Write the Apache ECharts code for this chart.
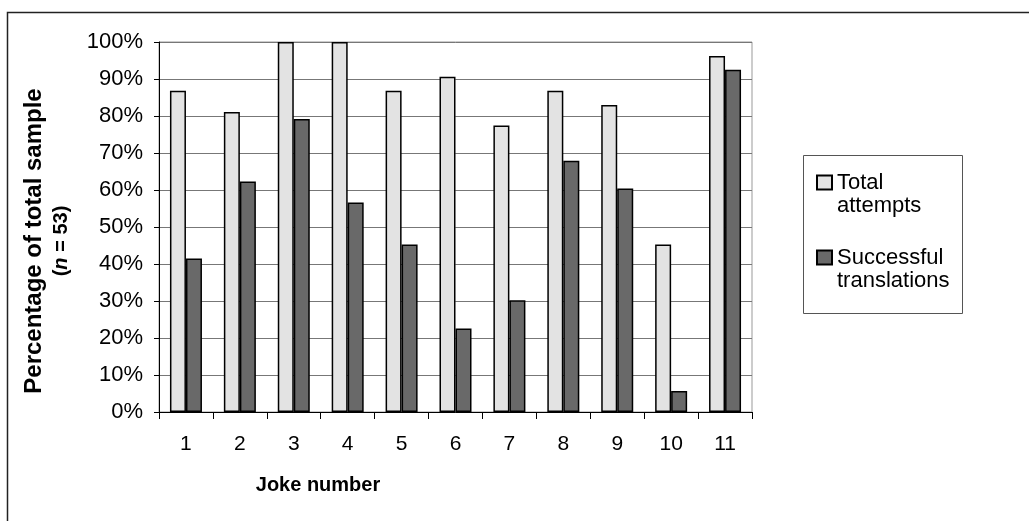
<!DOCTYPE html>
<html>
<head>
<meta charset="utf-8">
<script src="https://cdn.jsdelivr.net/npm/echarts@6/dist/echarts.min.js"></script>
<style>
  html, body { margin: 0; padding: 0; background: #fff; }
  #chart { width: 1029px; height: 521px; }
</style>
</head>
<body>
<div id="chart"></div>
<script>
  // joke numbers on the x axis
  var jokes = ['1', '2', '3', '4', '5', '6', '7', '8', '9', '10', '11'];
  // percent of the 53 participants
  var totalAttempts = [86.8, 81.1, 100, 100, 86.8, 90.6, 77.4, 86.8, 83.0, 45.3, 96.2];
  var successful = [41.5, 62.3, 79.2, 56.6, 45.3, 22.6, 30.2, 67.9, 60.4, 5.7, 92.5];
  var seriesNames = ['Total attempts', 'Successful translations'];

  var font = 'Liberation Sans, Arial, sans-serif';
  var chart = echarts.init(document.getElementById('chart'));

  chart.setOption({
    animation: false,
    backgroundColor: '#fff',
    grid: {
      left: 159,
      right: 277,
      top: 42,
      bottom: 109,
      show: true,
      borderColor: '#999',
      borderWidth: 1
    },
    legend: {
      orient: 'vertical',
      left: 816,
      top: 148,
      padding: 0,
      itemGap: 6,
      itemWidth: 15,
      itemHeight: 14,
      icon: 'rect',
      data: seriesNames,
      // empty first line so the icon sits next to the first word
      formatter: function (name) {
        return '\n' + name.replace(' ', '\n');
      },
      textStyle: {
        fontFamily: font,
        fontSize: 22,
        color: '#000',
        lineHeight: 23
      }
    },
    xAxis: {
      type: 'category',
      data: jokes,
      axisLine: { lineStyle: { color: '#000', width: 1 } },
      axisTick: { show: true, length: 7, lineStyle: { color: '#000' } },
      axisLabel: { color: '#000', fontFamily: font, fontSize: 21, margin: 22 }
    },
    yAxis: {
      type: 'value',
      min: 0,
      max: 100,
      interval: 10,
      axisLine: { show: true, lineStyle: { color: '#000', width: 1 } },
      axisTick: { show: true, length: 5, lineStyle: { color: '#000' } },
      axisLabel: {
        color: '#000', fontFamily: font, fontSize: 22, margin: 16,
        formatter: '{value}%'
      },
      splitLine: { lineStyle: { color: '#777', width: 1 } }
    },
    graphic: [
      {
        // outer chart frame (only top and left edges fall inside the picture)
        type: 'rect',
        shape: { x: 7.5, y: 12.5, width: 1100, height: 600 },
        style: { fill: 'none', stroke: '#222', lineWidth: 1.5 },
        silent: true
      },
      {
        type: 'rect',
        shape: { x: 803.5, y: 155.5, width: 159, height: 158 },
        style: { fill: 'none', stroke: '#555', lineWidth: 1 },
        silent: true
      },
      {
        type: 'text',
        x: 318,
        y: 485,
        style: {
          text: 'Joke number',
          font: 'bold 20px ' + font,
          fill: '#000',
          align: 'center',
          verticalAlign: 'middle'
        }
      },
      {
        type: 'text',
        x: 48,
        y: 241,
        rotation: Math.PI / 2,
        style: {
          text: '{b|Percentage of total sample}\n{s|(}{i|n}{s| = 53)}',
          align: 'center',
          verticalAlign: 'middle',
          fill: '#000',
          rich: {
            b: { fontFamily: font, fontWeight: 'bold', fontSize: 24, lineHeight: 27 },
            s: { fontFamily: font, fontWeight: 'bold', fontSize: 20, lineHeight: 27 },
            i: { fontFamily: font, fontWeight: 'bold', fontStyle: 'italic', fontSize: 20, lineHeight: 27 }
          }
        }
      }
    ],
    series: [
      {
        name: seriesNames[0],
        type: 'bar',
        data: totalAttempts,
        barWidth: 16,
        barGap: '0%',
        itemStyle: { color: '#e3e3e3', borderColor: '#000', borderWidth: 1.5 }
      },
      {
        name: seriesNames[1],
        type: 'bar',
        data: successful,
        barWidth: 16,
        barGap: '0%',
        itemStyle: { color: '#696969', borderColor: '#000', borderWidth: 1.5 }
      }
    ]
  });
</script>
</body>
</html>
